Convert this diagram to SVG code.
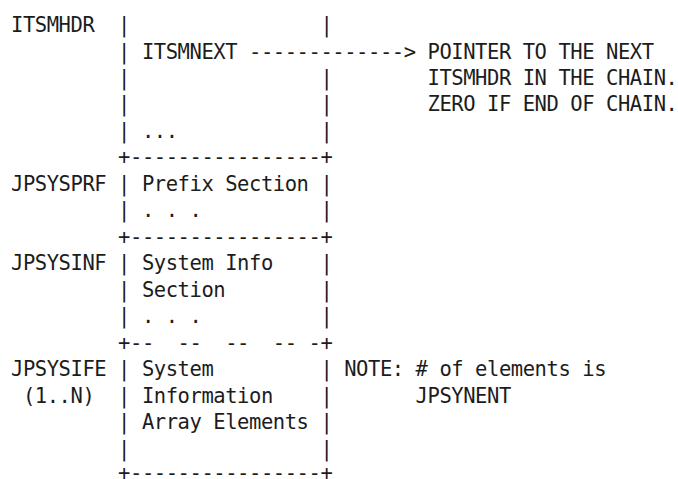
<svg xmlns="http://www.w3.org/2000/svg" width="678" height="479" viewBox="0 0 678 479">
<style>
text{font-family:"DejaVu Sans Mono","Liberation Mono",monospace;font-size:20.5px;letter-spacing:-0.44px;fill:#1c1c1c;white-space:pre}
</style>
<rect width="678" height="479" fill="#ffffff"/>
<g id="itsmhdr" xml:space="preserve">
<text x="11" y="32">ITSMHDR</text>
<text x="118.1" y="32">|                |</text>
<text x="118.1" y="58.5">| ITSMNEXT</text>
<text x="118.1" y="84.9">|                |</text>
<text x="118.1" y="111.4">|                |</text>
<text x="118.1" y="137.9">| ...            |</text>
<text x="118.1" y="164.4">+----------------+</text>
</g>
<g id="pointer-note">
<text x="427.5" y="58.5">POINTER TO THE NEXT</text>
<text x="427.5" y="84.9">ITSMHDR IN THE CHAIN.</text>
<text x="427.5" y="111.4">ZERO IF END OF CHAIN.</text>
</g>
<g id="jpsysprf" xml:space="preserve">
<text x="11" y="190.8">JPSYSPRF</text>
<text x="118.1" y="190.8">| Prefix Section |</text>
<text x="118.1" y="217.3">| . . .          |</text>
<text x="118.1" y="243.8">+----------------+</text>
</g>
<g id="jpsysinf" xml:space="preserve">
<text x="11" y="270.2">JPSYSINF</text>
<text x="118.1" y="270.2">| System Info    |</text>
<text x="118.1" y="296.7">| Section        |</text>
<text x="118.1" y="323.2">| . . .          |</text>
<text x="118.1" y="349.6">+--  --  --  -- -+</text>
</g>
<g id="jpsysife" xml:space="preserve">
<text x="11" y="376.1">JPSYSIFE</text>
<text x="22.9" y="402.6">(1..N)</text>
<text x="118.1" y="376.1">| System         |</text>
<text x="118.1" y="402.6">| Information    |</text>
<text x="118.1" y="429.1">| Array Elements |</text>
<text x="118.1" y="455.5">|                |</text>
<text x="118.1" y="480">+----------------+</text>
</g>
<g id="elements-note" xml:space="preserve">
<text x="344.2" y="376.1">NOTE: # of elements is</text>
<text x="415.6" y="402.6">JPSYNENT</text>
</g>
<g id="connectors">
<text x="249" y="58.5">-------------&gt;</text>
</g>
</svg>
